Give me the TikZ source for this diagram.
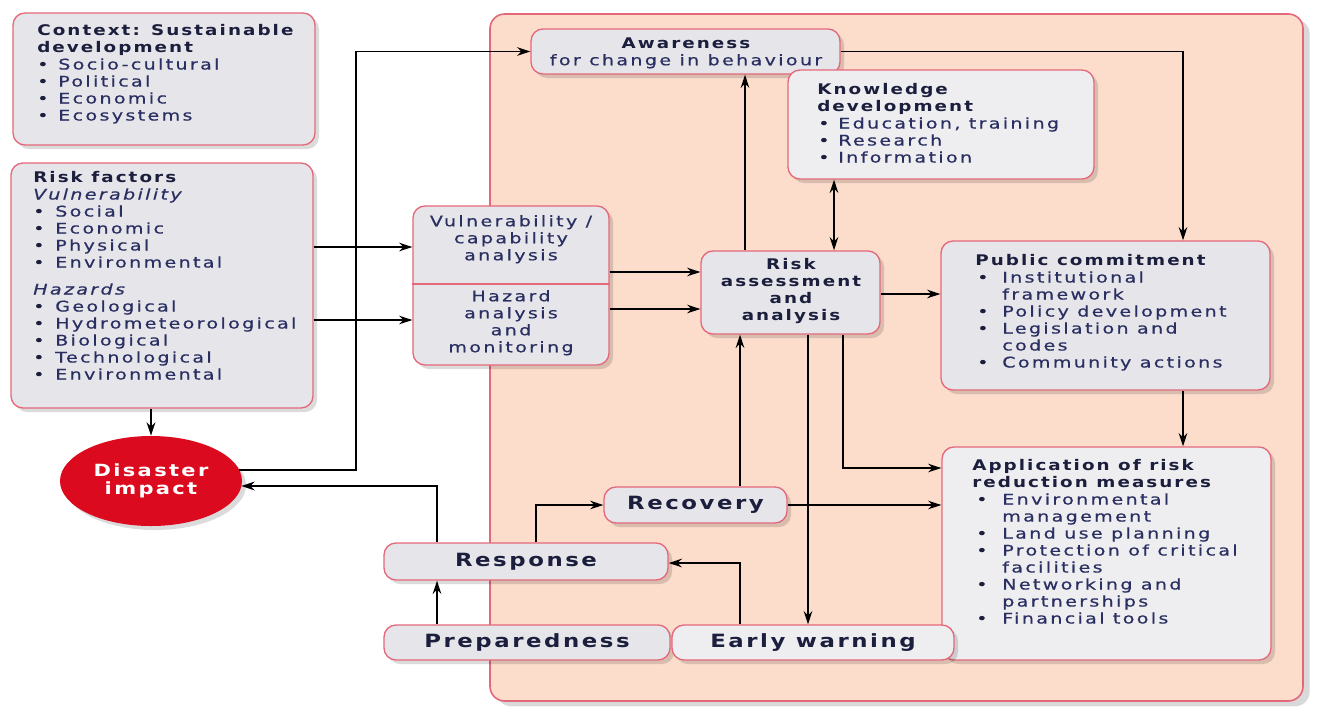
\documentclass[tikz,border=0pt]{standalone}
\usepackage{fontspec}
\setmainfont{DejaVu Sans}[
  UprightFeatures={FakeStretch=1.3,LetterSpace=16,FakeBold=0.6},
  ItalicFeatures={FakeStretch=1.3,LetterSpace=16,FakeBold=0.6},
  BoldFeatures={FakeStretch=1.25,LetterSpace=14},
  BoldItalicFeatures={FakeStretch=1.25,LetterSpace=14}]
\usetikzlibrary{arrows.meta,shadows,fit,calc,shapes.geometric}

\definecolor{panelfill}{HTML}{FCDCCB}
\definecolor{rim}{HTML}{E4677A}
\definecolor{boxgrey}{HTML}{E6E6EA}
\definecolor{boxlight}{HTML}{EEEEF1}
\definecolor{ink}{HTML}{1B1E3C}
\definecolor{bodyink}{HTML}{2A2F62}
\definecolor{impactred}{HTML}{DC0A1E}

% bullet: lead-in kern, then a fixed-width slot holding the dot
\newcommand\itm[2]{\hspace*{#1}\makebox[#2][l]{\textcolor{ink}{•}}}

\begin{document}
\begin{tikzpicture}[x=0.75pt,y=-0.75pt,
  panel/.style={draw=rim,line width=1.2pt,fill=panelfill,rounded corners=11pt,inner sep=0pt,
    drop shadow={shadow xshift=5pt,shadow yshift=-4pt,fill=black,opacity=0.15}},
  box/.style={draw=rim,line width=1pt,fill=boxgrey,rounded corners=9pt,inner sep=0pt,
    drop shadow={shadow xshift=3pt,shadow yshift=-3pt,fill=black,opacity=0.14}},
  lightbox/.style={box,fill=boxlight},
  txt/.style={inner sep=0pt,anchor=north west,align=left,
    font=\fontsize{11}{12.75}\selectfont,text=bodyink},
  ctr/.style={inner sep=0pt,anchor=north,align=center,
    font=\fontsize{11}{12.75}\selectfont,text=bodyink},
  big/.style={inner sep=0pt,anchor=center,text height=10pt,text depth=3pt,
    font=\fontsize{13.7}{15}\selectfont\bfseries,text=ink},
  arr/.style={line width=1.4pt,-{Stealth[length=10pt,width=6.5pt]}},
  darr/.style={line width=1.4pt,{Stealth[length=10pt,width=6.5pt]}-{Stealth[length=10pt,width=6.5pt]}},
]
\useasboundingbox (0,0) rectangle (1330,711);

% ---- right-hand panel -------------------------------------------------
\node[panel,fit={(490,14) (1303,701)}] (panel) {};

% ---- boxes ------------------------------------------------------------
\node[box,fit={(13,13) (315,145)}] (ctx) {};
\node[box,fit={(11,163) (313,408)}] (rf) {};
\node[ellipse,fill=impactred,minimum width=136.5pt,minimum height=67.5pt,inner sep=0pt,
  drop shadow={shadow xshift=3pt,shadow yshift=-3pt,fill=black,opacity=0.14},
  align=center,text=white,font=\fontsize{12.6}{13.5}\selectfont\bfseries]
  (ell) at (151,481) {Disaster\\impact};
\node[box,fit={(413,206) (609,365)}] (vul) {};
\node[box,fit={(531,29) (840,74)}] (aw) {};
\node[lightbox,fit={(788,70) (1094,179)}] (kn) {};
\node[box,fit={(701,251) (880,334)}] (risk) {};
\node[box,fit={(941,241) (1270,390)}] (pc) {};
\node[lightbox,fit={(942,447) (1271,660)}] (app) {};
\node[box,fit={(604,487) (787,523)}] (rec) {};
\node[box,fit={(384,543) (668,580)}] (resp) {};
\node[box,fit={(384,625) (670,660)}] (prep) {};
\node[lightbox,fit={(672,625) (954,660)}] (ew) {};

\draw[rim,line width=1pt] (vul.west |- 0,284) -- (vul.east |- 0,284);

% ---- box texts --------------------------------------------------------
\node[big] (recT) at (rec) {Recovery};
\node[big] (respT) at (resp) {Response};
\node[big] (prepT) at (prep) {Preparedness};
\node[big] (ewT) at (ew) {Early warning};

\node[txt] (ctxT) at (37,24.1) {\textcolor{ink}{\bfseries Context: Sustainable}\\
  \textcolor{ink}{\bfseries development}\\
  \itm{0pt}{15.75pt}Socio-cultural\\
  \itm{0pt}{15.75pt}Political\\
  \itm{0pt}{15.75pt}Economic\\
  \itm{0pt}{15.75pt}Ecosystems};

\node[txt] (rfT) at (33,171.1) {\textcolor{ink}{\bfseries Risk factors}\\
  \textit{Vulnerability}\\
  \itm{0pt}{16.5pt}Social\\
  \itm{0pt}{16.5pt}Economic\\
  \itm{0pt}{16.5pt}Physical\\
  \itm{0pt}{16.5pt}Environmental\\[7.5pt]
  \textit{Hazards}\\
  \itm{0pt}{16.5pt}Geological\\
  \itm{0pt}{16.5pt}Hydrometeorological\\
  \itm{0pt}{16.5pt}Biological\\
  \itm{0pt}{16.5pt}Technological\\
  \itm{0pt}{16.5pt}Environmental};

\node[ctr] (vulT) at (511,214.1) {\strut Vulnerability /\\capability\\analysis};
\node[ctr] (hazT) at (511,289.1) {\strut Hazard\\analysis\\and\\monitoring};

\node[ctr,text=ink] (awT) at (686,36.1) {\strut\bfseries Awareness\\
  \textcolor{bodyink}{for change in behaviour}};

\node[txt] (knT) at (817,83.1) {\textcolor{ink}{\bfseries Knowledge}\\
  \textcolor{ink}{\bfseries development}\\
  \itm{0.75pt}{15pt}Education, training\\
  \itm{0.75pt}{15pt}Research\\
  \itm{0.75pt}{15pt}Information};

\node[ctr,text=ink,font=\fontsize{11}{12.75}\selectfont\bfseries] (riskT) at (791,257.1)
  {\strut Risk\\assessment\\and\\analysis};

\node[txt] (pcT) at (975,254.1) {\textcolor{ink}{\bfseries Public commitment}\\
  \itm{1.5pt}{18.75pt}Institutional\\
  \hspace*{20.25pt}framework\\
  \itm{1.5pt}{18.75pt}Policy development\\
  \itm{1.5pt}{18.75pt}Legislation and\\
  \hspace*{20.25pt}codes\\
  \itm{1.5pt}{18.75pt}Community actions};

\node[txt] (appT) at (972,459.1) {\textcolor{ink}{\bfseries Application of risk}\\
  \textcolor{ink}{\bfseries reduction measures}\\
  \itm{3pt}{19.5pt}Environmental\\
  \hspace*{22.5pt}management\\
  \itm{3pt}{19.5pt}Land use planning\\
  \itm{3pt}{19.5pt}Protection of critical\\
  \hspace*{22.5pt}facilities\\
  \itm{3pt}{19.5pt}Networking and\\
  \hspace*{22.5pt}partnerships\\
  \itm{3pt}{19.5pt}Financial tools};

% ---- connectors -------------------------------------------------------
\draw[arr] (rf.east |- 0,247) -- (vul.west |- 0,247);
\draw[arr] (rf.east |- 0,320) -- (vul.west |- 0,320);
\draw[arr] (ell.north |- rf.south) -- (ell.north);
\draw[arr] ($(ell.east)+(-3,-11)$) -- ($(ell.east)+(114,-11)$) |- (aw.west);
\draw[arr] (vul.east |- 0,272) -- (risk.west |- 0,272);
\draw[arr] (vul.east |- 0,309) -- (risk.west |- 0,309);
\draw[arr] (risk.north -| 745,0) -- (aw.south -| 745,0);
\draw[darr] (kn.south -| 834,0) -- (risk.north -| 834,0);
\draw[arr] (aw.east) -| (pc.north -| 1183,0);
\draw[arr] (risk.east |- 0,294) -- (pc.west |- 0,294);
\draw[arr] (pc.south -| 1183,0) -- (app.north -| 1183,0);
\draw[arr] (risk.south -| 843,0) |- (app.west |- 0,468);
\draw[arr] (risk.south -| 808,0) -- (ew.north -| 808,0);
\draw[arr] (ew.north -| 740,0) |- (resp.east |- 0,563);
\draw[arr] (rec.north -| 740,0) -- (risk.south -| 740,0);
\draw[arr] (rec.east) -- (app.west |- rec.east);
\draw[arr] (resp.north -| 437,0) |- ($(ell.east)+(-1,5)$);
\draw[arr] (prep.north -| 437,0) -- (resp.south -| 437,0);
\draw[arr] (resp.north -| 536,0) |- (rec.west);
\end{tikzpicture}
\end{document}
